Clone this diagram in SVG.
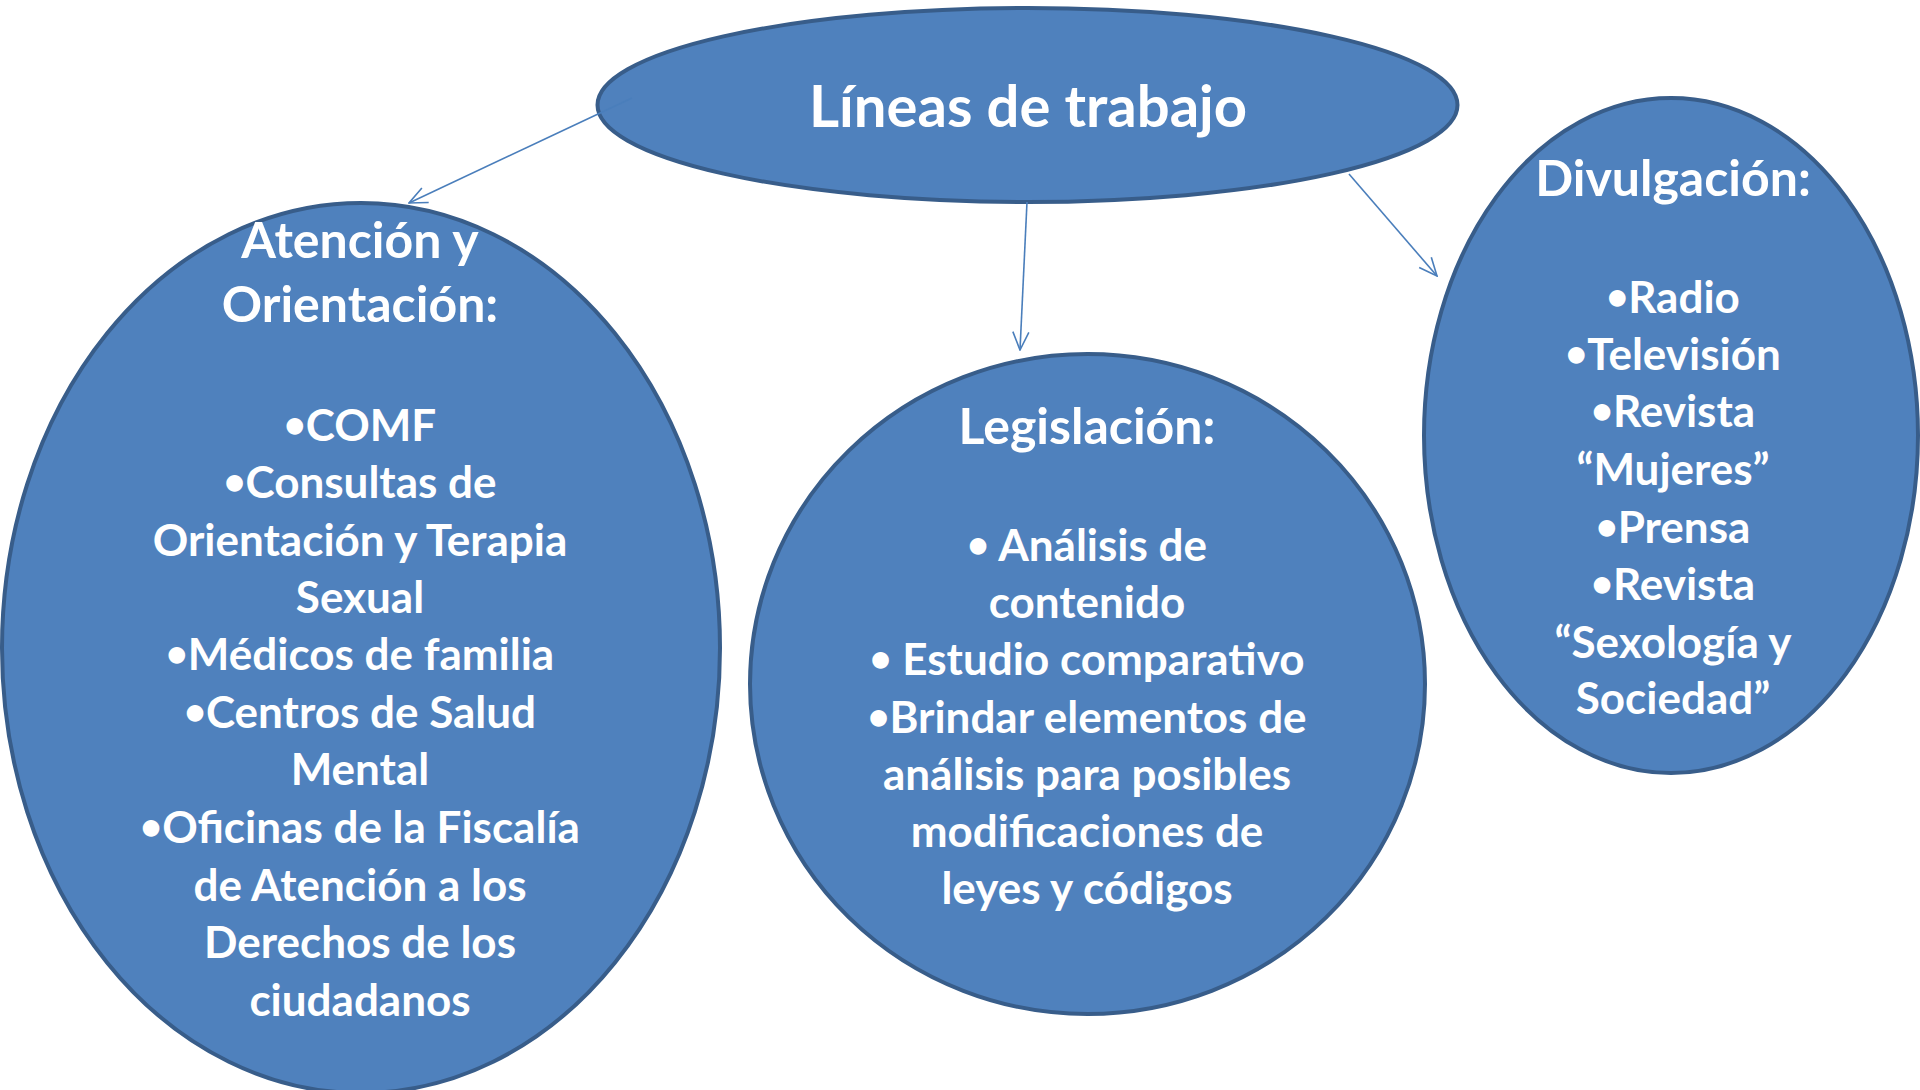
<svg xmlns="http://www.w3.org/2000/svg" width="1920" height="1090" viewBox="0 0 1920 1090">
<defs>
<style>
.node{fill:#4f81bd;stroke:#385d8a;stroke-width:4}
.t{fill:#ffffff;font-family:Lato,"Open Sans","Liberation Sans",sans-serif;font-weight:bold;text-anchor:middle}
.title{font-size:58px}
.h{font-size:50px}
.b{font-size:44px}
.bu{font-size:38px;baseline-shift:3px}
.conn{stroke:#4a7ebb;stroke-width:1.6;fill:none;marker-end:url(#arr)}
</style>
<marker id="arr" viewBox="0 0 20 20" refX="19" refY="10" markerWidth="20" markerHeight="20" markerUnits="userSpaceOnUse" orient="auto">
<path d="M1,2 L19,10 L1,18" fill="none" stroke="#4a7ebb" stroke-width="1.6"/>
</marker>
</defs>
<rect width="1920" height="1090" fill="#ffffff"/>
<g id="node-lineas">
<ellipse class="node" cx="1027.5" cy="105" rx="430" ry="97"/>
<text class="t title" x="1028" y="127">Líneas de trabajo</text>
</g>
<g id="node-atencion">
<ellipse class="node" cx="361" cy="648" rx="359" ry="445"/>
<text class="t h" x="360" y="258">Atención y</text>
<text class="t h" x="360" y="322">Orientación:</text>
<text class="t b" x="360" y="441"><tspan class="bu">•</tspan>COMF</text>
<text class="t b" x="360" y="498"><tspan class="bu">•</tspan>Consultas de</text>
<text class="t b" x="360" y="556">Orientación y Terapia</text>
<text class="t b" x="360" y="613">Sexual</text>
<text class="t b" x="360" y="670"><tspan class="bu">•</tspan>Médicos de familia</text>
<text class="t b" x="360" y="728"><tspan class="bu">•</tspan>Centros de Salud</text>
<text class="t b" x="360" y="785">Mental</text>
<text class="t b" x="360" y="843"><tspan class="bu">•</tspan>Oficinas de la Fiscalía</text>
<text class="t b" x="360" y="901">de Atención a los</text>
<text class="t b" x="360" y="958">Derechos de los</text>
<text class="t b" x="360" y="1016">ciudadanos</text>
</g>
<g id="node-legislacion">
<ellipse class="node" cx="1087.5" cy="684" rx="337.5" ry="330"/>
<text class="t h" x="1087" y="444">Legislación:</text>
<text class="t b" x="1087" y="561"><tspan class="bu">•</tspan> Análisis de</text>
<text class="t b" x="1087" y="618">contenido</text>
<text class="t b" x="1087" y="675"><tspan class="bu">•</tspan> Estudio comparativo</text>
<text class="t b" x="1087" y="733"><tspan class="bu">•</tspan>Brindar elementos de</text>
<text class="t b" x="1087" y="790">análisis para posibles</text>
<text class="t b" x="1087" y="847">modificaciones de</text>
<text class="t b" x="1087" y="904">leyes y códigos</text>
</g>
<g id="node-divulgacion">
<ellipse class="node" cx="1671" cy="435.5" rx="247" ry="337.5"/>
<text class="t h" x="1673" y="196">Divulgación:</text>
<text class="t b" x="1673" y="313"><tspan class="bu">•</tspan>Radio</text>
<text class="t b" x="1673" y="370"><tspan class="bu">•</tspan>Televisión</text>
<text class="t b" x="1673" y="427"><tspan class="bu">•</tspan>Revista</text>
<text class="t b" x="1673" y="485">“Mujeres”</text>
<text class="t b" x="1673" y="543"><tspan class="bu">•</tspan>Prensa</text>
<text class="t b" x="1673" y="600"><tspan class="bu">•</tspan>Revista</text>
<text class="t b" x="1673" y="658">“Sexología y</text>
<text class="t b" x="1673" y="714">Sociedad”</text>
</g>
<g id="connectors">
<line class="conn" x1="632" y1="98" x2="409" y2="203"/>
<line class="conn" x1="1027" y1="202" x2="1020" y2="350"/>
<line class="conn" x1="1349" y1="174" x2="1437" y2="276"/>
</g>
</svg>
